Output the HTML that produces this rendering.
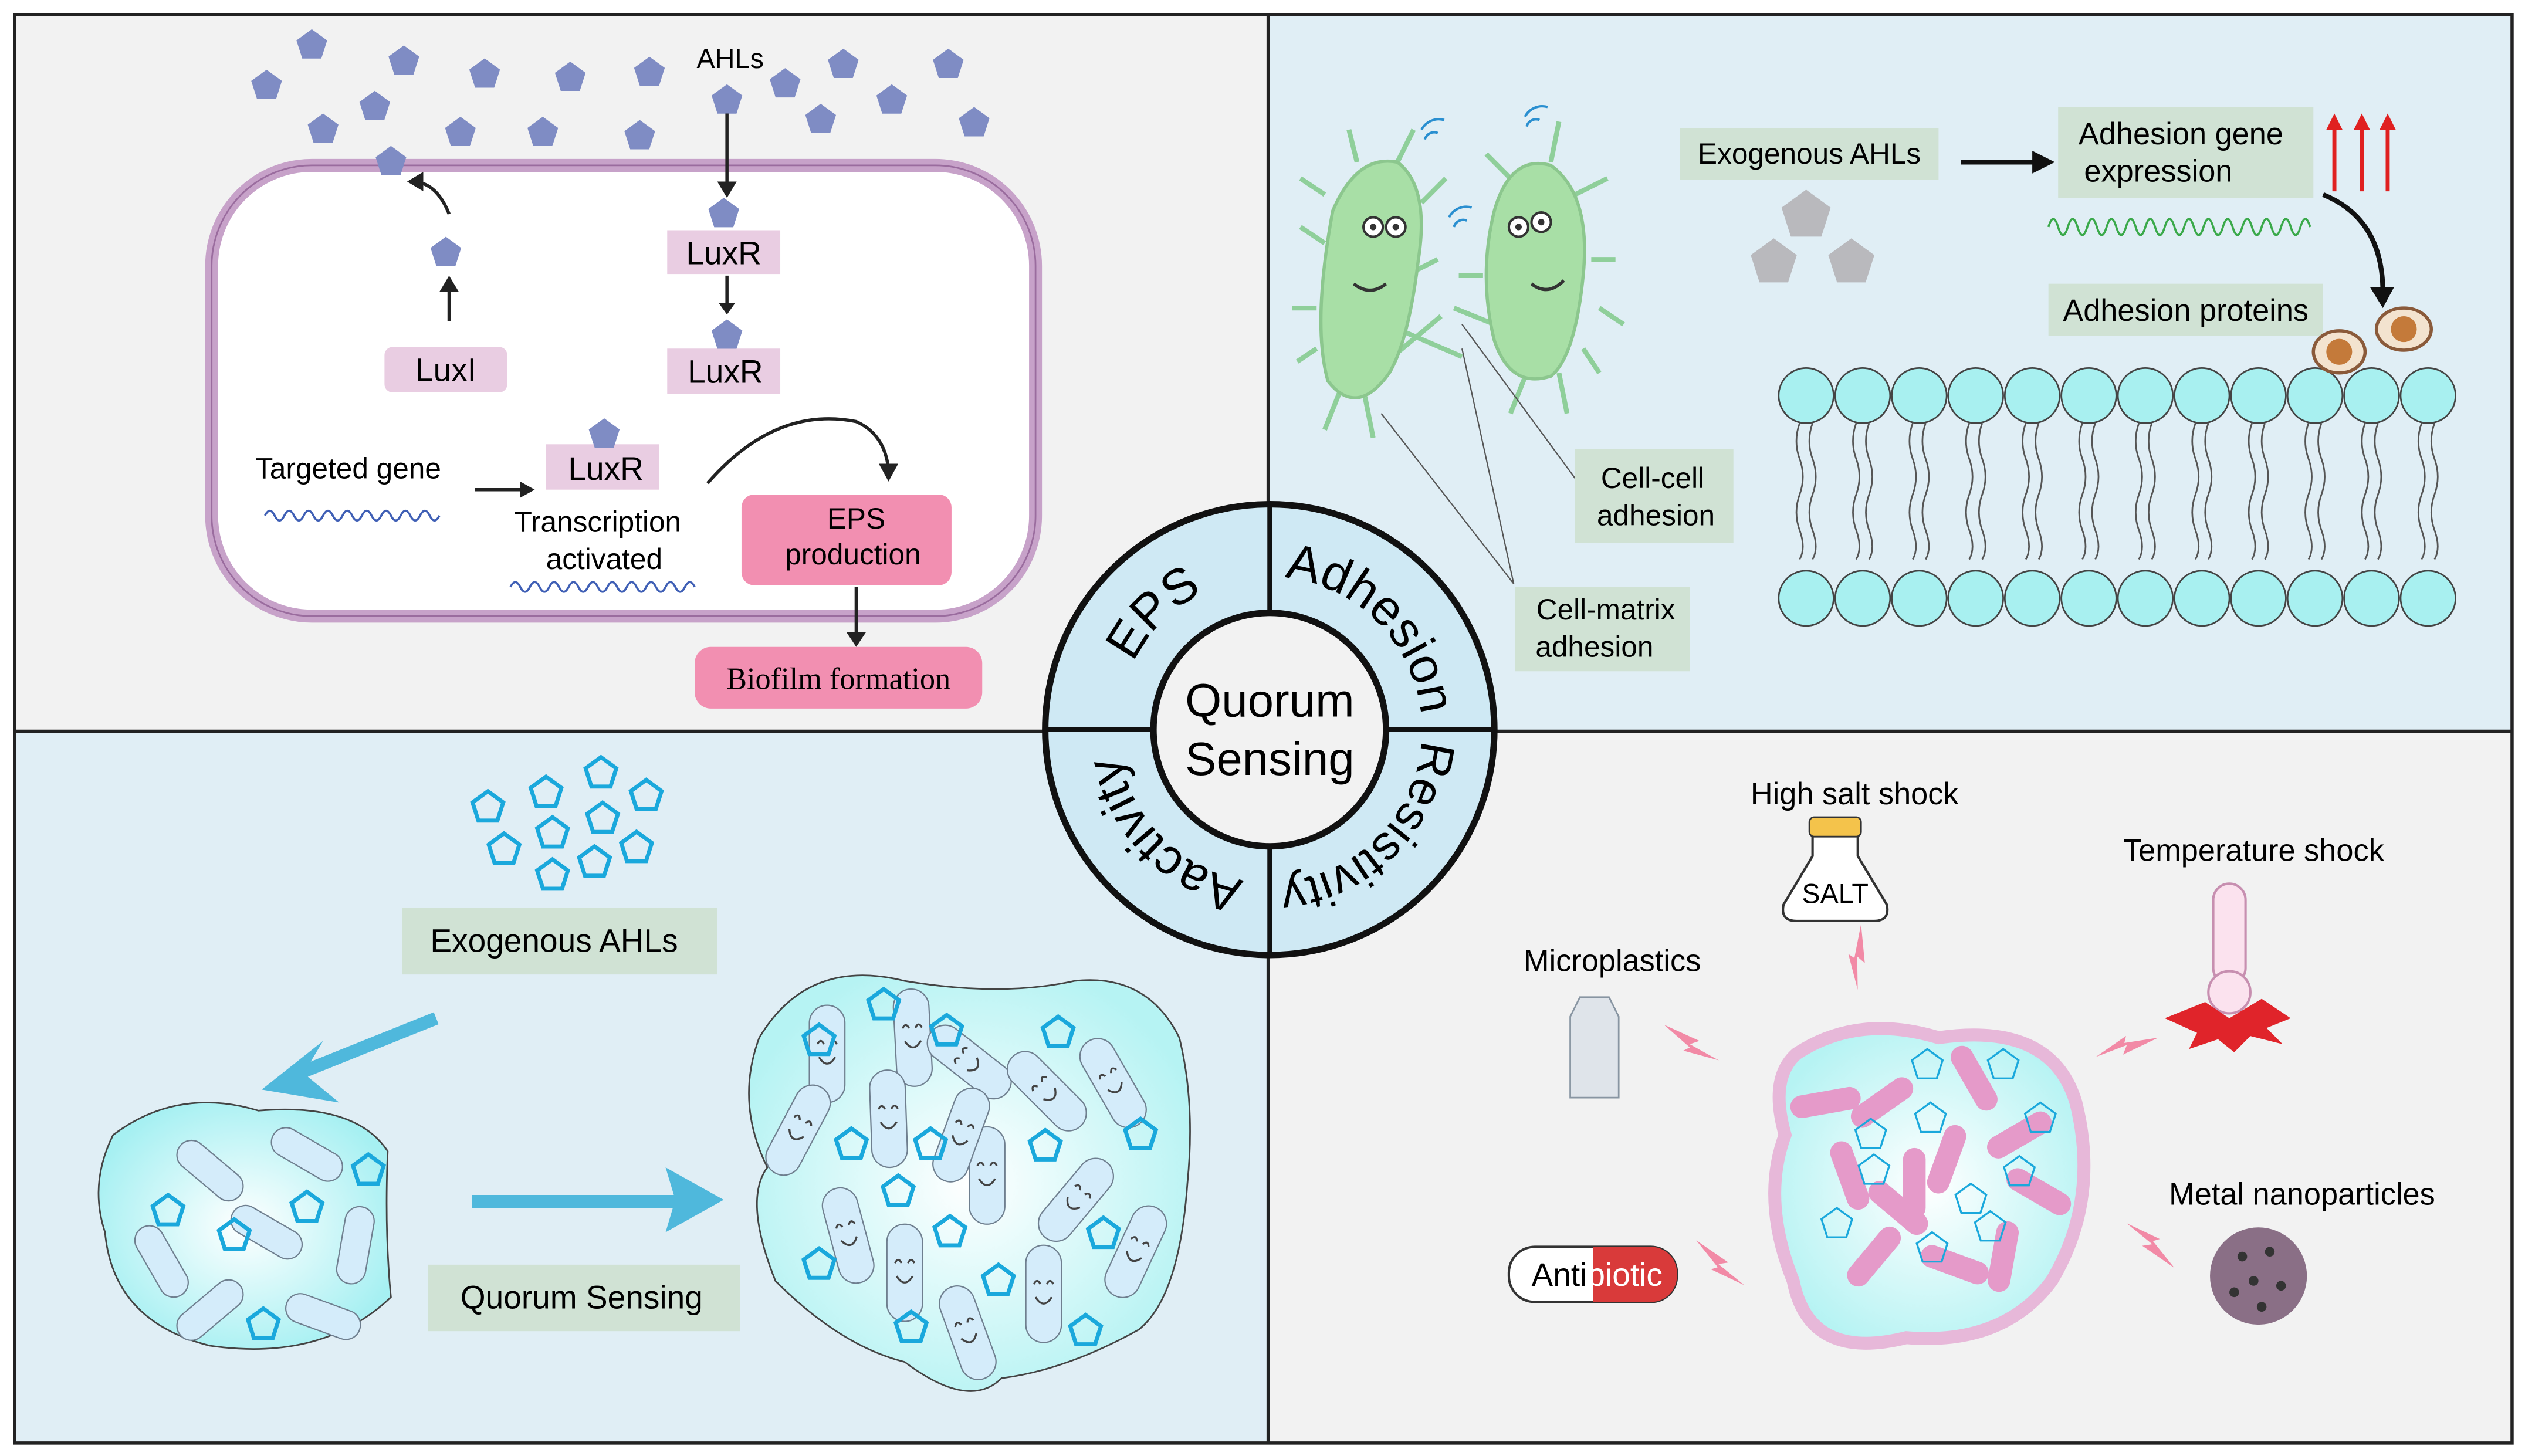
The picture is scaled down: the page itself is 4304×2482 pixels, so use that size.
<!DOCTYPE html>
<html><head><meta charset="utf-8"><style>
html,body{margin:0;padding:0;background:#fff}
svg{display:block}
text{font-family:"Liberation Sans",Arial,sans-serif}
</style></head><body>
<svg width="4304" height="2482" viewBox="0 0 1563 898" preserveAspectRatio="none" xmlns="http://www.w3.org/2000/svg">
<defs>
<path id="pent" d="M0,-10 L9.5,-3.1 L5.9,8.1 L-5.9,8.1 L-9.5,-3.1Z"/>
<radialGradient id="bio" cx="50%" cy="50%" r="55%"><stop offset="0" stop-color="#ffffff"/><stop offset="1" stop-color="#a6f0f2"/></radialGradient>
<radialGradient id="bio2" cx="50%" cy="50%" r="55%"><stop offset="0" stop-color="#ffffff"/><stop offset="1" stop-color="#b6f3f3"/></radialGradient>
<g id="rod"><rect x="-11" y="-30" width="22" height="60" rx="11" fill="#d4ecfa" stroke="#6f7f8f" stroke-width="0.8"/><path d="M-6,-6 q2,-4 4,0 M2,-6 q2,-4 4,0 M-5,2 q5,8 10,0" fill="none" stroke="#444" stroke-width="1.2"/></g>
<g id="brod"><rect x="-9" y="-24" width="18" height="48" rx="9" fill="#d4ecfa" stroke="#6f7f8f" stroke-width="0.8"/></g>
<g id="prod"><rect x="-7" y="-22" width="14" height="44" rx="7" fill="#e59ac9" /></g>
<g id="bolt"><path d="M0,0 L22,10 L16,12 L34,22 L12,16 L16,14 Z" fill="#f28aa6"/></g>
<path id="ring" d="M692,450 A94,94 0 1,1 880,450 A94,94 0 1,1 692,450"/>
</defs>
<rect width="1563" height="898" fill="#fff"/>
<rect x="9" y="9" width="776" height="442" fill="#f2f2f2"/>
<rect x="785" y="9" width="770" height="442" fill="#e0eef5"/>
<rect x="9" y="451" width="776" height="439" fill="#e0eef5"/>
<rect x="785" y="451" width="770" height="439" fill="#f2f2f2"/>
<rect x="9" y="9" width="1546" height="881" fill="none" stroke="#222" stroke-width="2"/>
<line x1="785" y1="9" x2="785" y2="890" stroke="#222" stroke-width="2"/>
<line x1="9" y1="451" x2="1555" y2="451" stroke="#222" stroke-width="2"/>

<!-- TL -->
<rect x="131" y="102" width="510" height="278" rx="62" fill="#fff" stroke="#c7a2c9" stroke-width="8"/>
<rect x="131" y="102" width="510" height="278" rx="62" fill="none" stroke="#9a6c9e" stroke-width="1"/>
<g fill="#7f8cc4">
<use href="#pent" x="193" y="28"/><use href="#pent" x="250" y="38"/><use href="#pent" x="300" y="46"/><use href="#pent" x="353" y="48"/><use href="#pent" x="402" y="45"/><use href="#pent" x="165" y="53"/><use href="#pent" x="200" y="80"/><use href="#pent" x="232" y="66"/><use href="#pent" x="285" y="82"/><use href="#pent" x="336" y="82"/><use href="#pent" x="396" y="84"/><use href="#pent" x="242" y="100"/><use href="#pent" x="450" y="62"/><use href="#pent" x="486" y="52"/><use href="#pent" x="522" y="40"/><use href="#pent" x="508" y="74"/><use href="#pent" x="552" y="62"/><use href="#pent" x="587" y="40"/><use href="#pent" x="603" y="76"/><use href="#pent" x="276" y="156"/>
<use href="#pent" x="448" y="132"/><use href="#pent" x="450" y="207"/><use href="#pent" x="374" y="268"/>
</g>
<text x="452" y="42" font-size="17" text-anchor="middle">AHLs</text>
<path d="M450,70 V118" stroke="#222" stroke-width="2"/><path d="M444,112 L450,122 L456,112Z" fill="#222"/>
<path d="M278,198 V176" stroke="#222" stroke-width="2"/><path d="M272,180 L278,170 L284,180Z" fill="#222"/>
<path d="M278,132 Q270,112 255,112" stroke="#222" stroke-width="2" fill="none"/><path d="M262,106 L252,112 L262,118Z" fill="#222"/>
<path d="M450,170 V190" stroke="#222" stroke-width="2"/><path d="M445,187 L450,194 L455,187Z" fill="#222"/>
<rect x="413" y="142" width="70" height="27" fill="#e9cde2"/><text x="448" y="163" font-size="20" text-anchor="middle">LuxR</text>
<rect x="413" y="215" width="70" height="28" fill="#e9cde2"/><text x="449" y="236" font-size="20" text-anchor="middle">LuxR</text>
<rect x="238" y="214" width="76" height="28" rx="5" fill="#e9cde2"/><text x="276" y="235" font-size="20" text-anchor="middle">LuxI</text>
<rect x="338" y="274" width="70" height="28" fill="#e9cde2"/><text x="375" y="296" font-size="20" text-anchor="middle">LuxR</text>
<g fill="#7f8cc4"><use href="#pent" x="448" y="132"/><use href="#pent" x="450" y="207"/><use href="#pent" x="374" y="268"/></g>
<text x="158" y="295" font-size="18">Targeted gene</text>
<path d="M164,318 q3,-6 6,0 t6,0 t6,0 t6,0 t6,0 t6,0 t6,0 t6,0 t6,0 t6,0 t6,0 t6,0 t6,0 t6,0 t6,0 t6,0 t6,0 t6,0" stroke="#3f5fb5" stroke-width="1.3" fill="none"/>
<path d="M294,302 H326" stroke="#222" stroke-width="2"/><path d="M322,297 L331,302 L322,307Z" fill="#222"/>
<text x="370" y="328" font-size="18" text-anchor="middle">Transcription</text>
<text x="374" y="351" font-size="18" text-anchor="middle">activated</text>
<path d="M316,362 q3,-6 6,0 t6,0 t6,0 t6,0 t6,0 t6,0 t6,0 t6,0 t6,0 t6,0 t6,0 t6,0 t6,0 t6,0 t6,0 t6,0 t6,0 t6,0 t6,0" stroke="#3f5fb5" stroke-width="1.3" fill="none"/>
<path d="M438,298 Q480,250 530,260 Q548,268 550,290" stroke="#222" stroke-width="2" fill="none"/><path d="M544,286 L550,297 L556,286Z" fill="#222"/>
<rect x="459" y="305" width="130" height="56" rx="8" fill="#f28fb1"/>
<text x="530" y="326" font-size="18" text-anchor="middle">EPS</text><text x="528" y="348" font-size="18" text-anchor="middle">production</text>
<path d="M530,362 V392" stroke="#222" stroke-width="2"/><path d="M524,390 L530,399 L536,390Z" fill="#222"/>
<rect x="430" y="399" width="178" height="38" rx="10" fill="#f28fb1"/>
<text x="519" y="425" font-size="19" text-anchor="middle" style="font-family:'Liberation Serif',serif">Biofilm formation</text>

<!-- TR -->
<g stroke="#8fcf9a" stroke-width="3" fill="none">
<path d="M820,150 l-15,-10 M815,190 l-15,0 M815,215 l-12,8 M830,240 l-10,25 M845,245 l5,25 M862,220 l30,-25 M870,170 l20,-10 M880,125 l15,-15 M865,100 l10,-20 M840,100 l-5,-20 M820,120 l-15,-10 M870,205 l35,15"/>
<path d="M935,110 l-15,-15 M960,100 l5,-25 M975,120 l20,-10 M985,160 l15,0 M990,190 l15,10 M980,215 l10,15 M965,230 l5,25 M945,230 l-10,25 M925,200 l-25,-10 M918,170 l-15,0"/>
</g>
<path d="M825,130 Q840,95 865,100 Q885,115 878,160 Q872,210 860,230 Q840,258 822,235 Q812,200 825,130Z" fill="#a8dfa6" stroke="#8cc78e" stroke-width="2"/>
<path d="M925,130 Q935,95 960,102 Q985,120 980,170 Q975,220 960,232 Q935,240 925,210 Q915,170 925,130Z" fill="#a8dfa6" stroke="#8cc78e" stroke-width="2"/>
<g fill="#fff" stroke="#333" stroke-width="1.5"><circle cx="850" cy="140" r="6"/><circle cx="864" cy="140" r="6"/><circle cx="940" cy="140" r="6"/><circle cx="954" cy="137" r="6"/></g>
<g fill="#333"><circle cx="850" cy="140" r="2"/><circle cx="864" cy="140" r="2"/><circle cx="940" cy="140" r="2"/><circle cx="954" cy="137" r="2"/></g>
<path d="M838,175 q10,8 20,0 M948,175 q10,8 20,-2" stroke="#333" stroke-width="2" fill="none"/>
<g stroke="#2a8fd0" stroke-width="1.5" fill="none"><path d="M882,86 a6,6 0 0 1 8,-4 M880,80 a12,12 0 0 1 14,-6"/><path d="M945,78 a6,6 0 0 1 8,-4 M944,72 a12,12 0 0 1 14,-6"/><path d="M900,140 a6,6 0 0 1 8,-4 M897,134 a12,12 0 0 1 14,-6"/></g>
<g stroke="#555" stroke-width="0.8"><line x1="905" y1="200" x2="975" y2="295"/><line x1="855" y1="255" x2="937" y2="360"/><line x1="905" y1="215" x2="937" y2="360"/></g>
<rect x="975" y="277" width="98" height="58" fill="#d0e2d4"/><text x="1023" y="301" font-size="18" text-anchor="middle">Cell-cell</text><text x="1025" y="324" font-size="18" text-anchor="middle">adhesion</text>
<rect x="938" y="362" width="108" height="52" fill="#d0e2d4"/><text x="994" y="382" font-size="18" text-anchor="middle">Cell-matrix</text><text x="987" y="405" font-size="18" text-anchor="middle">adhesion</text>
<rect x="1040" y="79" width="160" height="32" fill="#d0e2d4"/><text x="1120" y="101" font-size="18" text-anchor="middle">Exogenous AHLs</text>
<g transform="translate(1118,133) scale(1.6) translate(-1118,-133)"><use href="#pent" x="1118" y="133" fill="#b9b9bd"/></g>
<g transform="translate(1098,162) scale(1.5) translate(-1098,-162)"><use href="#pent" x="1098" y="162" fill="#b9b9bd"/></g>
<g transform="translate(1146,162) scale(1.5) translate(-1146,-162)"><use href="#pent" x="1146" y="162" fill="#b9b9bd"/></g>
<path d="M1214,100 H1262" stroke="#111" stroke-width="3"/><path d="M1258,93 L1272,100 L1258,107Z" fill="#111"/>
<rect x="1274" y="66" width="158" height="56" fill="#d0e2d4"/><text x="1350" y="89" font-size="19" text-anchor="middle">Adhesion gene</text><text x="1336" y="112" font-size="19" text-anchor="middle">expression</text>
<g stroke="#e02020" stroke-width="2.5"><line x1="1445" y1="118" x2="1445" y2="76"/><line x1="1462" y1="118" x2="1462" y2="76"/><line x1="1478" y1="118" x2="1478" y2="76"/></g>
<g fill="#e02020"><path d="M1440,80 L1445,70 L1450,80Z"/><path d="M1457,80 L1462,70 L1467,80Z"/><path d="M1473,80 L1478,70 L1483,80Z"/></g>
<path d="M1268,140 q3,-10 6,0 t6,0 t6,0 t6,0 t6,0 t6,0 t6,0 t6,0 t6,0 t6,0 t6,0 t6,0 t6,0 t6,0 t6,0 t6,0 t6,0 t6,0 t6,0 t6,0 t6,0 t6,0 t6,0 t6,0 t6,0 t6,0 t6,0" stroke="#3aa94a" stroke-width="1.3" fill="none"/>
<path d="M1438,120 Q1475,135 1475,180" stroke="#111" stroke-width="3" fill="none"/><path d="M1467,177 L1475,190 L1482,177Z" fill="#111"/>
<rect x="1268" y="175" width="170" height="32" fill="#d0e2d4"/><text x="1353" y="198" font-size="19" text-anchor="middle">Adhesion proteins</text>
<g stroke="#444" stroke-width="1" fill="#a8f0f0">
<g id="col"><path d="M1114,261 q-4,11 0,22 t0,22 t0,22 t0,18 M1122,261 q-4,11 0,22 t0,22 t0,22 t0,18" fill="none" stroke="#555"/><circle cx="1118" cy="244" r="17"/><circle cx="1118" cy="369" r="17"/></g>
<use href="#col" x="35"/><use href="#col" x="70"/><use href="#col" x="105"/><use href="#col" x="140"/><use href="#col" x="175"/><use href="#col" x="210"/><use href="#col" x="245"/><use href="#col" x="280"/><use href="#col" x="315"/><use href="#col" x="350"/><use href="#col" x="385"/>
</g>
<ellipse cx="1448" cy="217" rx="16" ry="13" fill="#f3e3cf" stroke="#8a5a3a" stroke-width="2"/><circle cx="1448" cy="217" r="8" fill="#c47a3a"/>
<ellipse cx="1488" cy="203" rx="17" ry="13" fill="#f3e3cf" stroke="#8a5a3a" stroke-width="2"/><circle cx="1488" cy="203" r="8" fill="#c47a3a"/>

<!-- BL -->
<g fill="none" stroke="#1aa8dc" stroke-width="2.5">
<use href="#pent" x="302" y="498"/><use href="#pent" x="338" y="489"/><use href="#pent" x="372" y="477"/><use href="#pent" x="400" y="491"/><use href="#pent" x="312" y="524"/><use href="#pent" x="342" y="514"/><use href="#pent" x="373" y="505"/><use href="#pent" x="394" y="523"/><use href="#pent" x="342" y="540"/><use href="#pent" x="368" y="532"/>
</g>
<rect x="249" y="560" width="195" height="41" fill="#d0e2d4"/><text x="343" y="587" font-size="20" text-anchor="middle">Exogenous AHLs</text>
<path d="M270,628 L185,662" stroke="#4fb8dc" stroke-width="8"/><path d="M162,672 L200,642 L188,662 L210,680Z" fill="#4fb8dc"/>
<path d="M70,700 Q110,670 160,685 Q220,680 240,710 Q238,760 242,800 Q200,840 130,830 Q70,815 65,760 Q55,730 70,700Z" fill="url(#bio)" stroke="#444" stroke-width="1"/>
<g transform="translate(130,722) rotate(-50)"><use href="#brod"/></g>
<g transform="translate(190,712) rotate(-60)"><use href="#brod"/></g>
<g transform="translate(165,760) rotate(-60)"><use href="#brod"/></g>
<g transform="translate(100,778) rotate(-30)"><use href="#brod"/></g>
<g transform="translate(220,768) rotate(10)"><use href="#brod"/></g>
<g transform="translate(130,808) rotate(50)"><use href="#brod"/></g>
<g transform="translate(200,812) rotate(-70)"><use href="#brod"/></g>
<g fill="none" stroke="#1aa8dc" stroke-width="2.5"><use href="#pent" x="228" y="722"/><use href="#pent" x="104" y="747"/><use href="#pent" x="145" y="762"/><use href="#pent" x="190" y="745"/><use href="#pent" x="163" y="817"/></g>
<path d="M292,741 H420" stroke="#4fb8dc" stroke-width="8"/><path d="M448,740 L412,720 L418,740 L412,760Z" fill="#4fb8dc"/>
<rect x="265" y="780" width="193" height="41" fill="#d0e2d4"/><text x="360" y="807" font-size="20" text-anchor="middle">Quorum Sensing</text>
<path d="M470,640 Q500,590 560,605 Q620,615 665,605 Q710,600 730,640 Q740,680 735,730 Q730,800 705,820 Q660,845 620,850 Q600,870 560,840 Q520,830 480,790 Q460,740 475,720 Q455,680 470,640Z" fill="url(#bio2)" stroke="#444" stroke-width="1"/>
<g>
<g transform="translate(512,650)"><use href="#rod"/></g><g transform="translate(565,640) rotate(-3)"><use href="#rod"/></g>
<g transform="translate(550,690) rotate(-2)"><use href="#rod"/></g><g transform="translate(611,725)"><use href="#rod"/></g>
<g transform="translate(600,655) rotate(-52)"><use href="#rod"/></g><g transform="translate(648,673) rotate(-45)"><use href="#rod"/></g>
<g transform="translate(689,668) rotate(-30)"><use href="#rod"/></g><g transform="translate(494,697) rotate(28)"><use href="#rod"/></g>
<g transform="translate(595,700) rotate(20)"><use href="#rod"/></g><g transform="translate(525,762) rotate(-15)"><use href="#rod"/></g>
<g transform="translate(666,740) rotate(40)"><use href="#rod"/></g>
<g transform="translate(560,785)"><use href="#rod"/></g><g transform="translate(646,798)"><use href="#rod"/></g>
<g transform="translate(599,822) rotate(-20)"><use href="#rod"/></g><g transform="translate(703,772) rotate(25)"><use href="#rod"/></g>
</g>
<g fill="none" stroke="#1aa8dc" stroke-width="2.5">
<use href="#pent" x="547" y="620"/><use href="#pent" x="507" y="642"/><use href="#pent" x="586" y="636"/><use href="#pent" x="655" y="637"/><use href="#pent" x="706" y="700"/><use href="#pent" x="527" y="706"/><use href="#pent" x="576" y="706"/><use href="#pent" x="647" y="707"/><use href="#pent" x="556" y="735"/><use href="#pent" x="588" y="760"/><use href="#pent" x="683" y="761"/><use href="#pent" x="507" y="780"/><use href="#pent" x="618" y="790"/><use href="#pent" x="672" y="821"/><use href="#pent" x="564" y="819"/>
</g>

<!-- BR -->
<text x="1148" y="496" font-size="19" text-anchor="middle">High salt shock</text>
<path d="M1122,510 h28 v18 l18,30 q2,10 -8,10 h-48 q-10,0 -8,-10 l18,-30Z" fill="#fff" stroke="#333" stroke-width="1.5"/>
<rect x="1120" y="504" width="32" height="12" rx="3" fill="#f4c34b" stroke="#333"/>
<text x="1136" y="557" font-size="17" text-anchor="middle">SALT</text>
<text x="1395" y="531" font-size="19" text-anchor="middle">Temperature shock</text>
<rect x="1370" y="545" width="20" height="62" rx="10" fill="#fbe2ee" stroke="#c78fb0" stroke-width="1.5"/><circle cx="1380" cy="612" r="13" fill="#fbe2ee" stroke="#c78fb0" stroke-width="1.5"/>
<path d="M1340,628 l25,-10 l15,10 l20,-12 l18,12 l-15,6 l10,10 l-20,-5 l-10,10 l-10,-8 l-18,6 l5,-10 Z" fill="#e0242a"/>
<text x="998" y="599" font-size="19" text-anchor="middle">Microplastics</text>
<path d="M978,615 h18 l6,12 v50 h-30 v-50Z" fill="#dfe4ea" stroke="#8895a2"/>
<text x="1425" y="743" font-size="19" text-anchor="middle">Metal nanoparticles</text>
<circle cx="1398" cy="787" r="30" fill="#8a6f86"/>
<g fill="#333"><circle cx="1388" cy="775" r="3"/><circle cx="1405" cy="772" r="3"/><circle cx="1395" cy="790" r="3"/><circle cx="1412" cy="793" r="3"/><circle cx="1383" cy="797" r="3"/><circle cx="1400" cy="806" r="3"/></g>
<rect x="934" y="769" width="104" height="34" rx="16" fill="#fff" stroke="#333" stroke-width="1.5"/>
<path d="M986,769 h36 a16,16 0 0 1 16,17 a16,16 0 0 1 -16,17 h-36Z" fill="#d93a3a"/>
<text x="948" y="793" font-size="20">Anti<tspan fill="#fff">biotic</tspan></text>
<path d="M1112,650 Q1150,625 1200,640 Q1270,630 1285,680 Q1300,740 1270,790 Q1240,830 1180,825 Q1120,840 1110,790 Q1090,740 1105,700 Q1095,665 1112,650Z" fill="url(#bio2)" stroke="#e7b8d9" stroke-width="8"/>
<g>
<g transform="translate(1165,680) rotate(55)"><use href="#prod"/></g><g transform="translate(1222,665) rotate(-30)"><use href="#prod"/></g><g transform="translate(1250,700) rotate(60)"><use href="#prod"/></g>
<g transform="translate(1145,725) rotate(-20)"><use href="#prod"/></g><g transform="translate(1205,715) rotate(20)"><use href="#prod"/></g><g transform="translate(1262,735) rotate(-60)"><use href="#prod"/></g>
<g transform="translate(1175,745) rotate(-50)"><use href="#prod"/></g><g transform="translate(1210,780) rotate(-70)"><use href="#prod"/></g><g transform="translate(1240,775) rotate(10)"><use href="#prod"/></g>
<g transform="translate(1160,775) rotate(40)"><use href="#prod"/></g><g transform="translate(1185,730) rotate(0)"><use href="#prod"/></g><g transform="translate(1130,680) rotate(80)"><use href="#prod"/></g>
</g>
<g fill="none" stroke="#1aa8dc" stroke-width="1.2">
<use href="#pent" x="1193" y="657"/><use href="#pent" x="1240" y="657"/><use href="#pent" x="1263" y="690"/><use href="#pent" x="1195" y="690"/><use href="#pent" x="1158" y="700"/><use href="#pent" x="1220" y="740"/><use href="#pent" x="1160" y="722"/><use href="#pent" x="1137" y="755"/><use href="#pent" x="1196" y="770"/><use href="#pent" x="1232" y="757"/><use href="#pent" x="1250" y="723"/>
</g>
<g transform="translate(1030,632)"><use href="#bolt"/></g>
<g transform="translate(1152,570) rotate(60)"><use href="#bolt"/></g>
<g transform="translate(1336,640) rotate(130)"><use href="#bolt"/></g>
<g transform="translate(1050,765) rotate(10)"><use href="#bolt"/></g>
<g transform="translate(1346,782) rotate(190)"><use href="#bolt"/></g>

<!-- Center -->
<circle cx="786" cy="450" r="139" fill="#cfe9f4" stroke="#111" stroke-width="4"/>
<line x1="647" y1="450" x2="925" y2="450" stroke="#111" stroke-width="3"/>
<line x1="786" y1="311" x2="786" y2="589" stroke="#111" stroke-width="3"/>
<circle cx="786" cy="450" r="72" fill="#f2f2f2" stroke="#111" stroke-width="4"/>
<text x="786" y="442" font-size="29" text-anchor="middle">Quorum</text>
<text x="786" y="478" font-size="29" text-anchor="middle">Sensing</text>
<text font-size="31"><textPath href="#ring" startOffset="12.5%" text-anchor="middle">EPS</textPath></text>
<text font-size="31"><textPath href="#ring" startOffset="37.5%" text-anchor="middle">Adhesion</textPath></text>
<text font-size="30"><textPath href="#ring" startOffset="62.5%" text-anchor="middle">Resistivity</textPath></text>
<text font-size="31"><textPath href="#ring" startOffset="87.5%" text-anchor="middle">Aactivity</textPath></text>
</svg>
</body></html>
